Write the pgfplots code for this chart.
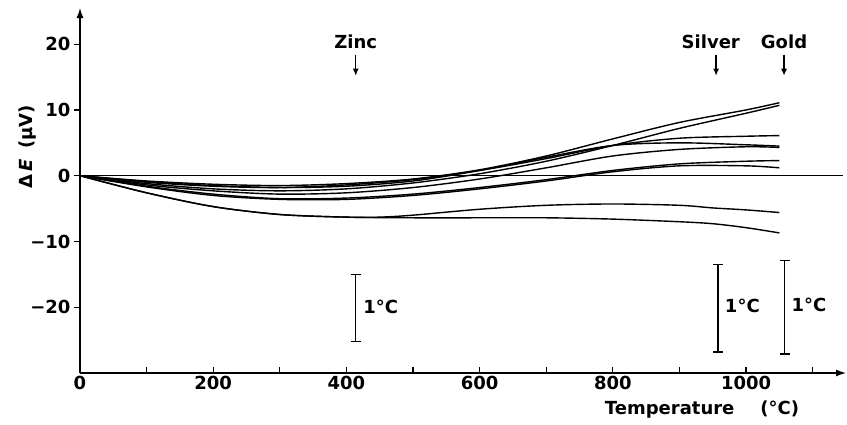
\documentclass[border=0pt]{standalone}
\usepackage{pgfplots}
\pgfplotsset{compat=1.18}
\usepackage{fontspec}
\setmainfont{DejaVu Sans}
\usetikzlibrary{arrows.meta}

\newcommand{\lbl}{\fontsize{18}{21}\selectfont\bfseries}

\begin{document}
\begin{tikzpicture}
\begin{axis}[
    scale only axis,
    width=766pt, height=365pt,
    xmin=0, xmax=1150,
    ymin=-30, ymax=25.5,
    axis lines=left,
    axis line style={line width=1.3pt, -{Latex[length=10pt,width=7pt]}},
    xtick={0,100,...,1100},
    xticklabels={0,,200,,400,,600,,800,,1000,},
    ytick={-20,-10,0,10,20},
    yticklabels={−20,−10,0,10,20},
    xtick align=inside,
    ytick align=outside,
    major tick length=6pt,
    tick style={line width=1.2pt, black},
    ticklabel style={font=\lbl},
    /pgf/number format/assume math mode=true,
    xlabel={Temperature\hspace{26pt}(°C)},
    ylabel={Δ\,\textit{E}\hspace{10pt}(µV)},
    label style={font=\lbl},
    xlabel style={at={(ticklabel cs:0.812)}, anchor=north, yshift=-4pt},
    ylabel style={at={(ticklabel cs:0.62)}, yshift=-13pt},
    clip=false,
    every axis plot/.append style={line width=1.4pt, black},
]
% keep the page the size of the reference
\path (axis cs:0,-30) ++(-80pt,-51pt) -- ++(847pt,424pt);
% reference line
\addplot[sharp plot, line width=1.1pt] coordinates {(0,0) (1145,0)};
% difference curves
\addplot[smooth] coordinates {(0,0) (100,-0.8) (200,-1.3) (300,-1.5) (400,-1.2) (500,-0.5) (600,0.9) (700,3.0) (800,5.6) (900,8.1) (1000,10.0) (1050,11.1)};
\addplot[smooth] coordinates {(0,0) (100,-1.2) (200,-2.0) (300,-2.3) (400,-2.0) (500,-1.1) (600,0.3) (700,2.2) (800,4.6) (900,7.2) (1000,9.5) (1050,10.7)};
\addplot[smooth] coordinates {(0,0) (100,-1.0) (200,-1.6) (300,-1.8) (400,-1.4) (500,-0.6) (600,0.8) (700,2.6) (800,4.6) (900,5.7) (1000,6.0) (1050,6.1)};
\addplot[smooth] coordinates {(0,0) (100,-1.4) (200,-2.3) (300,-2.8) (400,-2.6) (500,-1.8) (600,-0.5) (700,1.2) (800,3.0) (900,4.0) (1000,4.4) (1050,4.3)};
\addplot[smooth] coordinates {(0,0) (100,-0.9) (200,-1.5) (300,-1.8) (400,-1.6) (500,-0.8) (600,0.8) (700,2.8) (800,4.6) (900,5.0) (1000,4.7) (1050,4.5)};
\addplot[smooth] coordinates {(0,0) (100,-1.6) (200,-2.8) (300,-3.5) (400,-3.4) (500,-2.8) (600,-1.8) (700,-0.6) (800,0.8) (900,1.8) (1000,2.2) (1050,2.3)};
\addplot[smooth] coordinates {(0,0) (100,-1.7) (200,-3.0) (300,-3.6) (400,-3.6) (500,-3.0) (600,-2.0) (700,-0.8) (800,0.6) (900,1.5) (1000,1.5) (1050,1.2)};
\addplot[smooth] coordinates {(0,0) (100,-2.6) (200,-4.7) (300,-5.9) (400,-6.3) (450,-6.3) (500,-6.0) (600,-5.1) (700,-4.5) (800,-4.3) (900,-4.5) (950,-4.9) (1000,-5.2) (1050,-5.6)};
\addplot[smooth] coordinates {(0,0) (100,-2.6) (200,-4.7) (300,-5.9) (400,-6.3) (500,-6.4) (600,-6.4) (700,-6.4) (800,-6.6) (900,-7.0) (950,-7.3) (1000,-7.9) (1050,-8.7)};
% 1 degree C scale bars
\addplot[sharp plot, mark=-, mark size=5pt, mark options={line width=1.4pt}] coordinates {(414,-15.0) (414,-25.2)};
\addplot[sharp plot, mark=-, mark size=5pt, mark options={line width=1.4pt}] coordinates {(958,-13.5) (958,-26.8)};
\addplot[sharp plot, mark=-, mark size=5pt, mark options={line width=1.4pt}] coordinates {(1058,-12.9) (1058,-27.1)};
\node[anchor=west, font=\lbl] at (axis cs:420,-20) {1°C};
\node[anchor=west, font=\lbl] at (axis cs:963,-19.8) {1°C};
\node[anchor=west, font=\lbl] at (axis cs:1063,-19.6) {1°C};
% fixed points
\draw[line width=1.3pt, -{Latex[length=7pt,width=6pt]}] (axis cs:414,18.4) -- (axis cs:414,15.2);
\draw[line width=1.3pt, -{Latex[length=7pt,width=6pt]}] (axis cs:955,18.4) -- (axis cs:955,15.2);
\draw[line width=1.3pt, -{Latex[length=7pt,width=6pt]}] (axis cs:1057,18.4) -- (axis cs:1057,15.2);
\node[font=\lbl] at (axis cs:414,20.4) {Zinc};
\node[font=\lbl] at (axis cs:947,20.4) {Silver};
\node[font=\lbl] at (axis cs:1057,20.4) {Gold};
\end{axis}
\end{tikzpicture}
\end{document}
